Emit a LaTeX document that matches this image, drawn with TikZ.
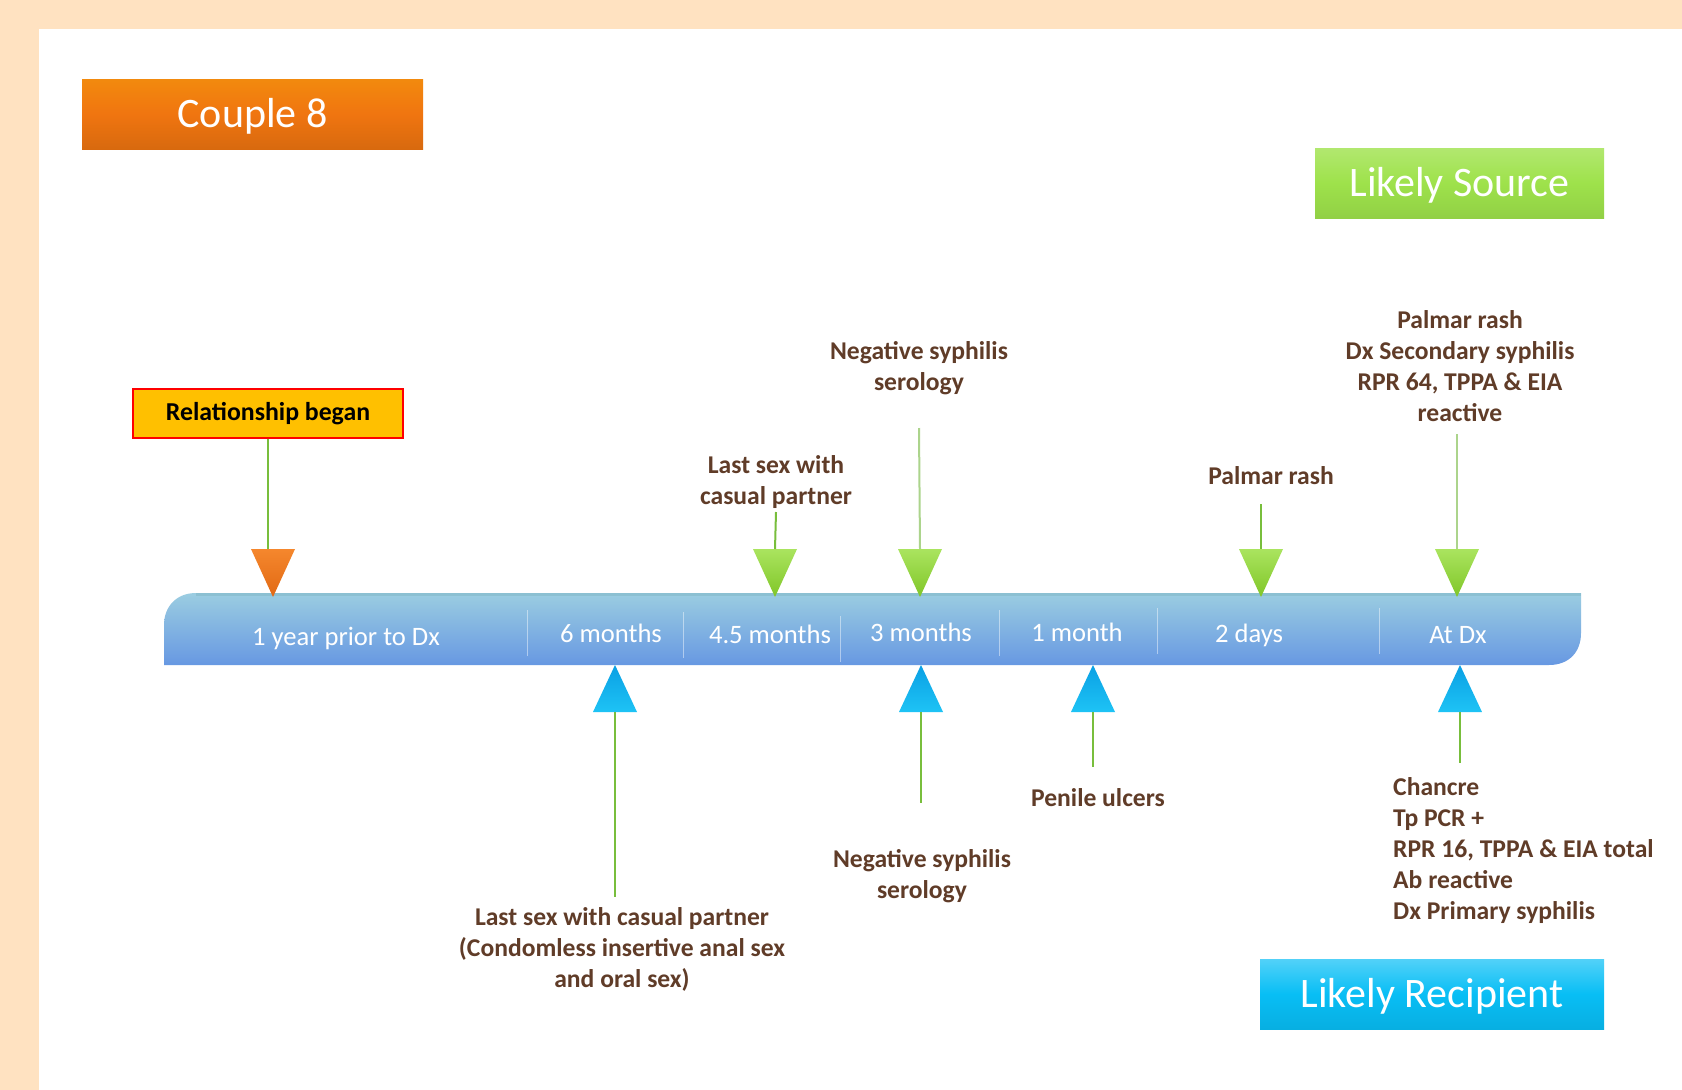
\documentclass[tikz,border=0pt]{standalone}
\usepackage{fontspec}
\setmainfont{Carlito}
\definecolor{peach}{RGB}{255,226,193}
\definecolor{boxorange}{RGB}{240,117,16}
\definecolor{boxgreen}{RGB}{158,226,75}
\definecolor{boxblue}{RGB}{8,190,245}
\definecolor{txtbrown}{RGB}{96,60,40}
\definecolor{relfill}{RGB}{255,192,0}
\definecolor{lgreen}{RGB}{120,190,60}
\definecolor{pgreen}{RGB}{172,212,140}
\definecolor{bartop}{RGB}{155,205,225}
\definecolor{barbot}{RGB}{103,152,226}
\definecolor{baredge}{RGB}{140,192,210}
\definecolor{trigtop}{RGB}{170,228,95}
\definecolor{trigbot}{RGB}{128,198,40}
\definecolor{tribtop}{RGB}{10,160,228}
\definecolor{tribbot}{RGB}{30,195,245}
\definecolor{triotop}{RGB}{245,135,45}
\definecolor{triobot}{RGB}{225,105,20}
\begin{document}
\begin{tikzpicture}[x=1pt,y=-1pt,
  lbl/.style={text=txtbrown, font=\fontsize{25.6}{31}\selectfont\bfseries, align=center, inner sep=0pt},
  barlbl/.style={text=white, font=\fontsize{26.6}{30}\selectfont, anchor=base, inner sep=0pt},
  headbox/.style={text=white, font=\fontsize{42}{50}\selectfont, inner sep=0pt, text height=27pt, text depth=0pt},
  conn/.style={draw=lgreen, line width=2pt},
  connp/.style={draw=pgreen, line width=2pt},
  trigreen/.style={top color=trigtop, bottom color=trigbot},
  triblue/.style={top color=tribtop, bottom color=tribbot},
  triorange/.style={top color=triotop, bottom color=triobot},
  divider/.style={draw=white, opacity=0.45, line width=1pt}]
\useasboundingbox (0,0) rectangle (1682,1090);
% background
\fill[peach] (0,0) rectangle (1682,1090);
\fill[white] (39,29) rectangle (1682,1090);

% header boxes
\node[headbox, minimum width=341pt, minimum height=70pt, top color=boxorange!85!yellow, bottom color=boxorange!90!black, middle color=boxorange] (couple) at (252.5,114) {Couple 8};
\node[headbox, minimum width=289pt, minimum height=70pt, top color=boxgreen!80!white, bottom color=boxgreen!92!black, middle color=boxgreen] (source) at (1459.5,183) {Likely Source};
\node[headbox, minimum width=344pt, minimum height=70pt, top color=boxblue!70!white, bottom color=boxblue!92!black, middle color=boxblue] (recip) at (1432,994) {Likely Recipient};

% timeline bar
\shade[top color=bartop, bottom color=barbot]
  (164,665) -- (164,625) .. controls (164,607) and (176,593) .. (196,593)
  -- (1581,593) -- (1581,633) .. controls (1581,652) and (1569,665) .. (1549,665) -- cycle;
\draw[baredge, line width=3pt] (196,594.5) -- (1581,594.5);
\draw[divider] (527,610) -- (527,656);
\draw[divider] (683,612) -- (683,658);
\draw[divider] (840,616) -- (840,662);
\draw[divider] (999,610) -- (999,656);
\draw[divider] (1157,608) -- (1157,654);
\draw[divider] (1379,608) -- (1379,654);

\node[barlbl] (p1) at (346,645) {1 year prior to Dx};
\node[barlbl] (p2) at (611,642) {6 months};
\node[barlbl] (p3) at (770,643) {4.5 months};
\node[barlbl] (p4) at (921,641) {3 months};
\node[barlbl] (p5) at (1077,641) {1 month};
\node[barlbl] (p6) at (1249,642) {2 days};
\node[barlbl] (p7) at (1458,643) {At Dx};

% top (downward) triangles
\coordinate (t1) at (273,549);
\coordinate (t2) at (775,549);
\coordinate (t3) at (920,549);
\coordinate (t4) at (1261,549);
\coordinate (t5) at (1457,549);
\shade[triorange] (251,549) -- (295,549) -- (273,597) -- cycle;
\shade[trigreen] (753,549) -- (797,549) -- (775,597) -- cycle;
\shade[trigreen] (898,549) -- (942,549) -- (920,597) -- cycle;
\shade[trigreen] (1239,549) -- (1283,549) -- (1261,597) -- cycle;
\shade[trigreen] (1435,549) -- (1479,549) -- (1457,597) -- cycle;

% bottom (upward) triangles
\coordinate (b1) at (615,712);
\coordinate (b2) at (921,712);
\coordinate (b3) at (1093,712);
\coordinate (b4) at (1460,712);
\shade[triblue] (593,712) -- (637,712) -- (615,665) -- cycle;
\shade[triblue] (899,712) -- (943,712) -- (921,665) -- cycle;
\shade[triblue] (1071,712) -- (1115,712) -- (1093,665) -- cycle;
\shade[triblue] (1438,712) -- (1482,712) -- (1460,665) -- cycle;

% top labels
\node[draw=red, line width=1.2pt, fill=relfill, minimum width=270pt, minimum height=49pt, inner sep=0pt,
      font=\fontsize{25.8}{31}\selectfont\bfseries, text=black] (rel) at (268,413.5) {Relationship began};
\node[lbl] (l2) at (776,482) {Last sex with\\casual partner};
\node[lbl] (l3) at (919,368) {Negative syphilis\\serology};
\node[lbl] (l4) at (1271,476) {Palmar rash};
\node[lbl] (l5) at (1460,366) {Palmar rash\\Dx Secondary syphilis\\RPR 64, TPPA \& EIA\\reactive};

\coordinate (s2) at (776,512);
\coordinate (s3) at (919,428);
\coordinate (s4) at (1261,504);
\coordinate (s5) at (1457,434);
\draw[conn] (rel.south) -- (rel.south |- t1);
\draw[conn] (s2) -- (t2);
\draw[connp] (s3) -- (t3);
\draw[conn] (s4) -- (t4);
\draw[connp] (s5) -- (t5);

% bottom labels
\node[lbl] (m1) at (622,949) {Last sex with casual partner\\(Condomless insertive anal sex\\and oral sex)};
\node[lbl] (m2) at (922,876) {Negative syphilis\\serology};
\node[lbl] (m3) at (1098,798) {Penile ulcers};
\node[lbl, align=left, anchor=west] (m4) at (1393,851) {Chancre\\Tp PCR +\\RPR 16, TPPA \& EIA total\\Ab reactive\\Dx Primary syphilis};

\coordinate (e1) at (615,897);
\coordinate (e2) at (921,803);
\coordinate (e3) at (1093,767);
\coordinate (e4) at (1460,763);
\draw[conn] (b1) -- (e1);
\draw[conn] (b2) -- (e2);
\draw[conn] (b3) -- (e3);
\draw[conn] (b4) -- (e4);
\end{tikzpicture}
\end{document}
